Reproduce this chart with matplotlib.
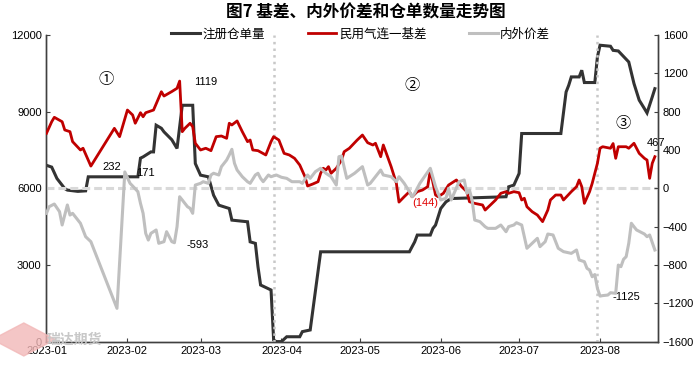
import matplotlib.pyplot as plt
import matplotlib.dates as mdates
from matplotlib.patches import RegularPolygon
import pandas as pd

plt.rcParams["font.family"] = ["Liberation Sans", "Noto Sans CJK SC", "DejaVu Sans"]
CJK = ["Noto Sans CJK SC", "DejaVu Sans"]

# day offsets from 2023-01-01
# 注册仓单量 (left axis)
black_days = [0, 2, 4, 7, 8, 12, 15, 16, 35, 36, 37, 40, 41, 42, 44, 45, 48, 50,
              52, 56, 57, 59, 62, 64, 66, 70, 71, 77, 78, 80, 81, 82, 86, 87, 88,
              90, 92, 97, 98, 101, 105, 139, 140, 141, 142, 147, 148, 149, 151,
              153, 155, 176, 177, 179, 181, 182, 197, 199, 200, 201, 204, 205,
              206, 210, 211, 212, 216, 217, 219, 223, 225, 227, 229, 230, 232, 233]
black_vals = [6900, 6830, 6385, 5990, 5930, 5880, 5900, 6450, 6450, 7180, 7230,
              7425, 7425, 8470, 8350, 8210, 7900, 7560, 9250, 9250, 6970, 6515,
              6450, 5730, 5340, 5210, 4755, 4690, 3905, 3845, 2930, 2215, 2020,
              60, 0, 0, 190, 190, 390, 455, 3515, 3515, 3710, 3900, 4170, 4170,
              4430, 4560, 5210, 5470, 5600, 5670, 6060, 6125, 6580, 8145, 8145,
              9770, 10030, 10360, 10360, 10620, 10140, 10140, 11140, 11600,
              11560, 11400, 11375, 10945, 10100, 9450, 9120, 8950, 9575, 9900]

# 民用气连一基差 (right axis)
red_days = [0, 2, 3, 6, 7, 9, 10, 13, 14, 16, 17, 26, 28, 31, 33, 34, 36, 37, 38,
            41, 44, 45, 48, 50, 51, 52, 53, 55, 56, 57, 59, 61, 63, 65, 67, 69, 70,
            71, 73, 75, 77, 78, 79, 81, 84, 86, 87, 89, 91, 93, 95, 97, 99, 100,
            102, 104, 105, 106, 107, 108, 109, 111, 113, 114, 116, 119, 121, 123,
            125, 126, 128, 129, 132, 134, 135, 137, 139, 140, 142, 144, 146, 147,
            149, 150, 152, 154, 155, 157, 159, 161, 162, 164, 167, 168, 170, 172,
            174, 176, 177, 179, 181, 182, 183, 184, 186, 188, 190, 192, 193, 195,
            197, 198, 201, 203, 204, 205, 206, 208, 209, 211, 212, 213, 216, 217,
            218, 219, 222, 223, 225, 227, 229, 230, 231, 232, 233]
red_vals = [574, 695, 741, 695, 609, 591, 487, 400, 418, 295, 232, 626, 539, 817,
            765, 679, 789, 747, 789, 817, 1008, 963, 1010, 1044, 1119, 591, 626,
            679, 643, 470, 400, 418, 393, 539, 546, 522, 679, 661, 703, 591, 487,
            504, 400, 393, 348, 487, 539, 504, 365, 348, 313, 243, 121, 24, 45, 69,
            157, 209, 191, 226, 157, 209, 295, 382, 418, 504, 556, 476, 452, 470,
            330, 452, 226, 52, -144, -88, -35, -88, -35, -18, 17, 191, -70, -88,
            -52, 34, 52, 87, 17, -35, -140, -157, -174, -227, -174, -122, -52, -35,
            -52, -35, -46, -122, -104, -192, -244, -279, -348, -227, -122, -70, -70,
            -122, -35, 17, 87, 17, -157, -35, 52, 261, 418, 434, 418, 467, 313, 434,
            434, 418, 470, 365, 313, 295, 104, 261, 330]

# 内外价差 (right axis)
gray_days = [0, 1, 3, 5, 6, 8, 9, 10, 13, 15, 17, 27, 30, 32, 33, 35, 36, 37, 38,
             39, 40, 42, 43, 45, 46, 48, 49, 50, 51, 52, 54, 55, 56, 57, 59, 60, 62,
             63, 64, 66, 67, 69, 70, 71, 72, 73, 75, 77, 78, 80, 81, 82, 83, 85, 86,
             88, 90, 92, 94, 97, 98, 100, 101, 103, 105, 107, 109, 111, 112, 113,
             115, 118, 121, 123, 124, 128, 129, 132, 134, 135, 137, 139, 140, 141,
             143, 147, 149, 150, 151, 153, 154, 155, 158, 160, 161, 162, 163, 164,
             166, 168, 169, 172, 174, 176, 177, 179, 180, 182, 183, 184, 186, 188,
             189, 191, 192, 194, 195, 196, 198, 201, 203, 204, 206, 207, 208, 209,
             210, 211, 212, 213, 215, 216, 218, 219, 220, 221, 222, 223, 224, 225,
             226, 229, 230, 231, 233]
gray_vals = [-261, -192, -164, -244, -383, -174, -279, -261, -365, -505, -557,
             -1253, 171, 52, 24, -35, -157, -261, -470, -540, -470, -435, -574,
             -557, -453, -557, -568, -401, -88, -122, -192, -209, -261, 34, 52, 69,
             52, 139, 157, 139, 226, 295, 348, 407, 261, 191, 121, 69, 52, 139, 157,
             104, 69, 139, 121, 139, 115, 104, 69, 69, 52, 139, 104, 174, 209, 157,
             121, 34, 330, 337, 104, 157, 226, 34, 52, 191, 139, 121, 69, 121, 52,
             -35, -88, -52, 52, 209, 17, -52, -122, -104, 0, -122, 69, 87, -52, -18,
             -122, -331, -348, -401, -418, -418, -383, -453, -400, -383, -359, -383,
             -505, -626, -574, -522, -609, -557, -477, -487, -557, -626, -661, -679,
             -644, -748, -766, -835, -853, -923, -900, -1044, -1125, -1120, -1114,
             -1090, -1096, -801, -818, -741, -714, -574, -365, -401, -435, -477,
             -505, -487, -644]

base = pd.Timestamp("2023-01-01")


def to_dates(days):
    return base + pd.to_timedelta(days, unit="D")


fig = plt.figure(figsize=(7, 3.67), dpi=100)
ax = fig.add_axes([0.0664, 0.0692, 0.8736, 0.8354])
ax2 = ax.twinx()

l1, = ax.plot(to_dates(black_days), black_vals, color="#333333", lw=2.2,
              label="注册仓单量", solid_joinstyle="miter")
l2, = ax2.plot(to_dates(red_days), red_vals, color="#c00000", lw=2.0,
               label="民用气连一基差", zorder=4)
l3, = ax2.plot(to_dates(gray_days), gray_vals, color="#bfbfbf", lw=2.2,
               label="内外价差", zorder=5)

# zero line and section separators
ax2.axhline(0, color="#d9d9d9", lw=2.2, dashes=(2.6, 1.3), zorder=1)
for d in [87, 211]:
    ax2.axvline(to_dates([d])[0], color="#c8c8c8", lw=1.8, ls=":", zorder=1)

ax.set_xlim(base, base + pd.Timedelta(days=234.2))
ax.set_ylim(0, 12000)
ax2.set_ylim(-1600, 1600)
ax.set_yticks(range(0, 12001, 3000))
ax2.set_yticks(range(-1600, 1601, 400))
ax.xaxis.set_major_locator(mdates.MonthLocator())
ax.xaxis.set_major_formatter(mdates.DateFormatter("%Y-%m"))

for a in (ax, ax2):
    a.spines["top"].set_visible(False)
    for s in ("left", "right", "bottom"):
        a.spines[s].set_color("#404040")
        a.spines[s].set_linewidth(1)
    a.tick_params(direction="in", length=3, labelsize=8, color="#404040",
                  labelcolor="#000000")

# annotations
notes = [("①", 23, 1131, "black", 11), ("②", 140, 1068, "black", 11),
         ("③", 221, 681, "black", 11), ("1119", 61, 1110, "black", 8),
         ("232", 25, 222, "black", 8), ("171", 38, 163, "black", 8),
         ("-593", 58, -592, "black", 8), ("(144)", 145, -150, "#e00000", 8),
         ("-1125", 222, -1132, "black", 8), ("467", 233.4, 472, "black", 8)]
for txt, d, v, c, fs in notes:
    ax2.text(base + pd.Timedelta(days=d), v, txt, color=c, fontsize=fs,
             ha="center", va="center", family=CJK if fs > 10 else None, zorder=2)

leg = ax2.legend(handles=[l1, l2, l3], loc="center", bbox_to_anchor=(0.514, 1.003),
                 ncol=3, frameon=False, prop={"family": CJK, "size": 9},
                 handlelength=2.3, handletextpad=0.2, columnspacing=3.4,
                 borderaxespad=0)

fig.text(0.523, 0.965, "图7 基差、内外价差和仓单数量走势图", ha="center", va="center",
         fontsize=12, fontweight="bold", family=CJK)

# watermark
fig.patches.append(RegularPolygon((0.034, 0.075), 4, radius=0.045, color="#f2b8b8",
                                  alpha=0.8, transform=fig.transFigure, zorder=0))
fig.text(0.066, 0.074, "瑞达期货", color="#c8c8c8", fontsize=10, fontweight="bold",
         family=CJK, va="center")

fig.savefig("out.png", dpi=100)
